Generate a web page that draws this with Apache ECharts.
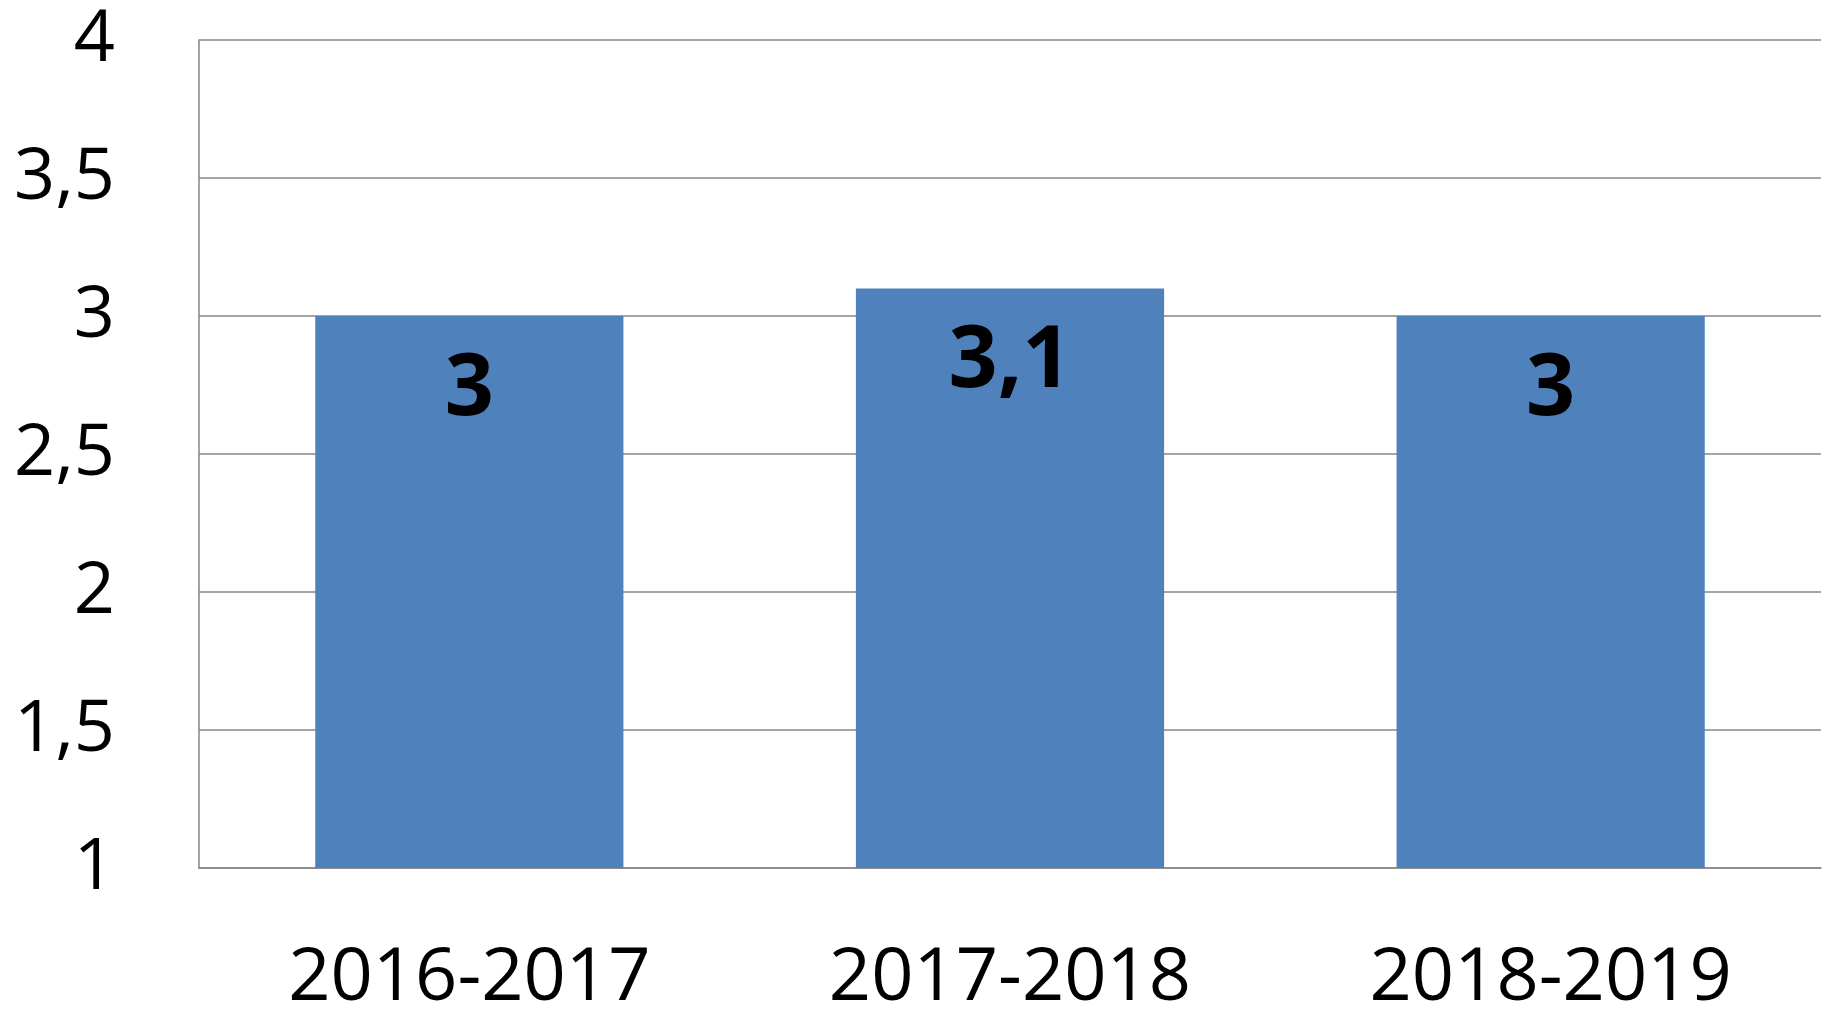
<!DOCTYPE html>
<html>
<head>
<meta charset="utf-8">
<script src="https://cdn.jsdelivr.net/npm/echarts@6/dist/echarts.min.js"></script>
<style>
html,body{margin:0;padding:0;background:#fff;}
#c{width:1825px;height:1009px;}
</style>
</head>
<body>
<div id="c"></div>
<script>
const categories = ['2016-2017', '2017-2018', '2018-2019'];
const values = [3, 3.1, 3];
const yMin = 1, yMax = 4, yStep = 0.5;

const fmt = v => String(v).replace('.', ',');
const chart = echarts.init(document.getElementById('c'), null, {renderer: 'canvas'});
chart.setOption({
  animation: false,
  backgroundColor: '#ffffff',
  grid: {left: 199, right: 4, top: 40, bottom: 141, containLabel: false, outerBoundsMode: 'none'},
  xAxis: {
    type: 'category',
    data: categories,
    axisLine: {show: true, lineStyle: {color: '#868686', width: 1.5}},
    axisTick: {show: false},
    axisLabel: {fontFamily: 'Open Sans', fontSize: 74, color: '#000', margin: 74}
  },
  yAxis: {
    type: 'value',
    min: yMin, max: yMax, interval: yStep,
    axisLine: {show: true, lineStyle: {color: '#868686', width: 1.5}},
    axisTick: {show: false},
    splitLine: {lineStyle: {color: '#868686', width: 1.5}},
    axisLabel: {fontFamily: 'Open Sans', fontSize: 72, color: '#000', margin: 84,
      formatter: v => fmt(v)}
  },
  series: [{
    type: 'bar',
    data: values,
    barWidth: '57%',
    itemStyle: {color: '#4F81BD'},
    label: {
      show: true,
      position: ['50%', 74],
      align: 'center',
      verticalAlign: 'middle',
      fontFamily: 'Open Sans',
      fontWeight: 'bold',
      fontSize: 86,
      color: '#000',
      formatter: p => fmt(p.value)
    }
  }]
});
</script>
</body>
</html>
